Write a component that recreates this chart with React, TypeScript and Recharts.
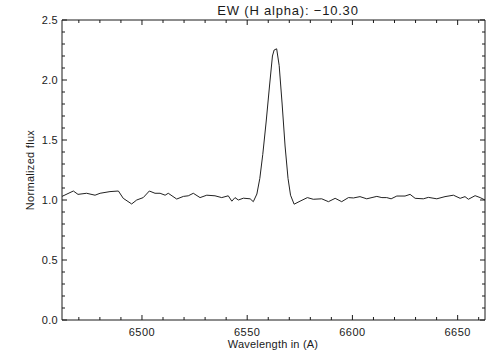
import React from 'react';
import { LineChart, Line, XAxis, YAxis } from 'recharts';

// spectrum around H alpha
const wavelength = [
  6462.0, 6467.4, 6469.6, 6473.7, 6477.7, 6480.1, 6484.8, 6488.8, 6491.1, 6495.1,
  6497.5, 6500.6, 6503.5, 6506.2, 6508.6, 6511.0, 6512.5, 6516.5, 6519.7, 6522.0,
  6524.4, 6527.6, 6530.8, 6534.7, 6537.9, 6541.0, 6542.7, 6544.2, 6545.8, 6548.2,
  6551.4, 6552.9, 6554.6, 6556.0, 6557.4, 6559.0, 6560.6, 6562.0, 6562.8, 6564.0,
  6565.2, 6566.6, 6568.0, 6569.4, 6570.6, 6572.3, 6575.1, 6578.6, 6581.4, 6585.4,
  6588.6, 6591.8, 6594.9, 6598.1, 6600.5, 6603.6, 6606.8, 6611.6, 6614.0, 6616.3,
  6618.4, 6621.1, 6625.0, 6627.4, 6629.8, 6633.7, 6636.1, 6640.1, 6644.0, 6648.0,
  6651.2, 6653.5, 6655.1, 6658.3, 6660.7, 6663.0,
];
const flux = [
  1.03, 1.075, 1.047, 1.056, 1.04, 1.056, 1.07, 1.075, 1.014, 0.967,
  1.0, 1.02, 1.075, 1.056, 1.056, 1.04, 1.056, 1.008, 1.03, 1.035,
  1.056, 1.02, 1.04, 1.035, 1.02, 1.035, 0.99, 1.02, 1.0, 1.015,
  1.01, 0.986, 1.05, 1.18, 1.38, 1.65, 1.95, 2.2, 2.25, 2.26,
  2.12, 1.8, 1.45, 1.18, 1.04, 0.965, 0.99, 1.02, 1.006, 1.01,
  0.986, 1.014, 0.986, 1.02, 1.017, 1.028, 1.01, 1.03, 1.02, 1.02,
  1.01, 1.033, 1.033, 1.047, 1.014, 1.01, 1.022, 1.01, 1.028, 1.04,
  1.014, 1.028, 1.006, 1.036, 1.02, 1.0,
];

const xMajorTicks = [6500, 6550, 6600, 6650];
const xMinorTicks = [6470, 6480, 6490, 6510, 6520, 6530, 6540, 6560, 6570, 6580, 6590, 6610, 6620, 6630, 6640, 6660];
const yMajorTicks = [0, 0.5, 1, 1.5, 2, 2.5];
const yMinorTicks = [0.1, 0.2, 0.3, 0.4, 0.6, 0.7, 0.8, 0.9, 1.1, 1.2, 1.3, 1.4, 1.6, 1.7, 1.8, 1.9, 2.1, 2.2, 2.3, 2.4];

const title = 'EW (H alpha): \u221210.30';
const xLabel = 'Wavelength in (A)';
const yLabel = 'Normalized flux';

const data = wavelength.map((w, i) => ({ w, f: flux[i] }));
const xTicks = [...xMajorTicks, ...xMinorTicks].sort((a, b) => a - b);
const yTicks = [...yMajorTicks, ...yMinorTicks].sort((a, b) => a - b);

const ink = '#1a1a1a';
const font = '"Liberation Sans", Arial, sans-serif';

const XTick = (props: any) => {
  const { x, y, payload, side } = props;
  const major = xMajorTicks.includes(payload.value);
  const len = major ? 5 : 3;
  const dir = side === 'top' ? 1 : -1;
  return (
    <g>
      <line x1={x} x2={x} y1={y} y2={y + dir * len} stroke={ink} strokeWidth={1} />
      {major && side === 'bottom' && (
        <text x={x} y={y + 16} textAnchor="middle" fontSize={11} letterSpacing={0.5} fill={ink} fontFamily={font}>
          {payload.value}
        </text>
      )}
    </g>
  );
};

const YTick = (props: any) => {
  const { x, y, payload, side } = props;
  const major = yMajorTicks.includes(payload.value);
  const len = major ? 5 : 3;
  const dir = side === 'left' ? 1 : -1;
  return (
    <g>
      <line x1={x} x2={x + dir * len} y1={y} y2={y} stroke={ink} strokeWidth={1} />
      {major && side === 'left' && (
        <text x={x - 4} y={y + 4} textAnchor="end" fontSize={11} letterSpacing={0.3} fill={ink} fontFamily={font}>
          {payload.value.toFixed(1)}
        </text>
      )}
    </g>
  );
};

export default function App() {
  const W = 504;
  const H = 360;
  return (
    <div style={{ position: 'absolute', left: 0, top: 0, width: W, height: H, background: '#fff' }}>
      <LineChart width={W} height={H} data={data} margin={{ top: 19, right: 18, bottom: 0, left: 0 }}>
        <XAxis
          xAxisId="b"
          dataKey="w"
          type="number"
          domain={[6462, 6663]}
          allowDataOverflow
          ticks={xTicks}
          interval={0}
          height={40}
          tickSize={0}
          tickMargin={0}
          tickLine={false}
          axisLine={{ stroke: ink }}
          tick={(p: any) => <XTick {...p} side="bottom" />}
        />
        {/* axes of 1px so the top and right frame get drawn */}
        <XAxis
          xAxisId="t"
          orientation="top"
          dataKey="w"
          type="number"
          domain={[6462, 6663]}
          allowDataOverflow
          ticks={xTicks}
          interval={0}
          height={1}
          tickSize={0}
          tickMargin={0}
          tickLine={false}
          axisLine={{ stroke: ink }}
          tick={(p: any) => <XTick {...p} side="top" />}
        />
        <YAxis
          yAxisId="l"
          type="number"
          domain={[0, 2.5]}
          allowDataOverflow
          ticks={yTicks}
          interval={0}
          width={62}
          tickSize={0}
          tickMargin={0}
          tickLine={false}
          axisLine={{ stroke: ink }}
          tick={(p: any) => <YTick {...p} side="left" />}
        />
        <YAxis
          yAxisId="r"
          orientation="right"
          type="number"
          domain={[0, 2.5]}
          allowDataOverflow
          ticks={yTicks}
          interval={0}
          width={1}
          tickSize={0}
          tickMargin={0}
          tickLine={false}
          axisLine={{ stroke: ink }}
          tick={(p: any) => <YTick {...p} side="right" />}
        />
        <Line
          xAxisId="t"
          yAxisId="r"
          type="linear"
          dataKey="f"
          stroke="none"
          dot={false}
          activeDot={false}
          isAnimationActive={false}
        />
        <Line
          xAxisId="b"
          yAxisId="l"
          type="linear"
          dataKey="f"
          stroke="#222"
          strokeWidth={1}
          dot={false}
          isAnimationActive={false}
        />
      </LineChart>
      <svg width={W} height={H} style={{ position: 'absolute', left: 0, top: 0, pointerEvents: 'none' }}>
        <text x={288} y={15} textAnchor="middle" fontSize={13} letterSpacing={0.8} fill={ink} fontFamily={font}>
          {title}
        </text>
        <text x={273} y={348} textAnchor="middle" fontSize={11} letterSpacing={0.2} fill={ink} fontFamily={font}>
          {xLabel}
        </text>
        <text
          x={34}
          y={170}
          textAnchor="middle"
          fontSize={11}
          letterSpacing={0.3}
          fill={ink}
          fontFamily={font}
          transform="rotate(-90 34 170)"
        >
          {yLabel}
        </text>
      </svg>
    </div>
  );
}
